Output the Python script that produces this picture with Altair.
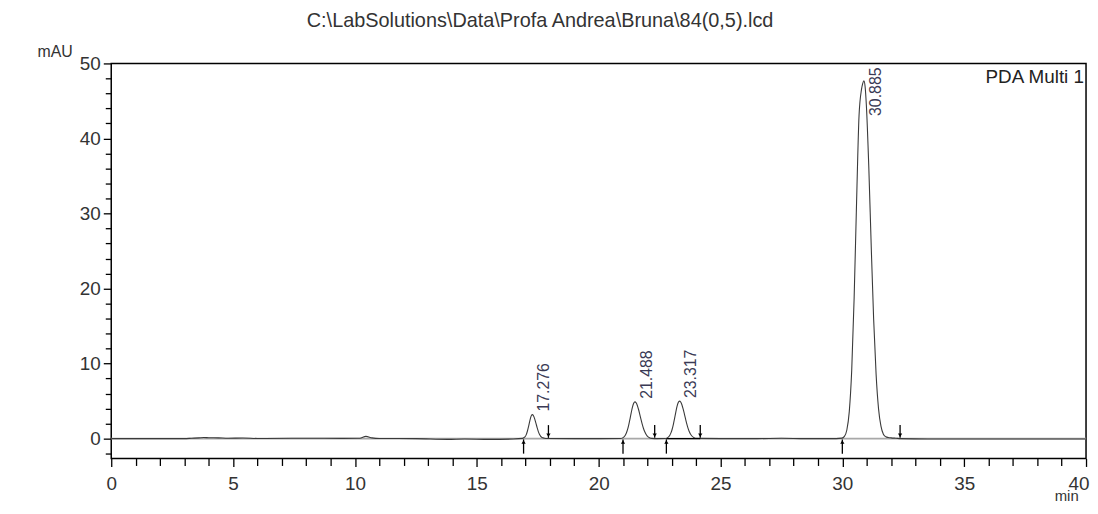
import altair as alt
import pandas as pd

# ---------------- data ----------------
trace_time = [
    0.0, 1.5, 3.0, 3.3, 3.6, 3.8, 4.0, 4.4, 4.8, 5.4, 6.0, 7.4, 8.0, 9.5, 10.2, 10.45, 10.7, 11.0,
    12.5, 13.8, 14.5, 15.5, 16.5,
    16.876, 16.976, 17.026, 17.076, 17.126, 17.176, 17.226, 17.276, 17.326, 17.376, 17.426, 17.476,
    17.526, 17.576, 17.676, 17.776, 17.876,
    19.0, 20.0, 20.888, 20.988, 21.088, 21.138, 21.188, 21.238, 21.288, 21.338, 21.388, 21.438,
    21.488, 21.538, 21.588, 21.638, 21.688, 21.738, 21.788, 21.838, 21.888, 21.988, 22.088, 22.188,
    22.4, 22.717, 22.817, 22.917, 22.967, 23.017, 23.067, 23.117, 23.167, 23.217, 23.267, 23.317,
    23.367, 23.417, 23.467, 23.517, 23.567, 23.617, 23.667, 23.717, 23.817, 23.917, 24.017,
    25.0, 26.5, 27.5, 28.5, 29.5,
    29.985, 30.085, 30.185, 30.285, 30.385, 30.485, 30.585, 30.685, 30.785, 30.835, 30.885,
    30.935, 30.985, 31.085, 31.185, 31.285, 31.385, 31.485, 31.585, 31.685, 31.785, 31.885,
    32.0, 32.2, 32.4, 33.5, 35.0, 37.0, 39.0, 40.0,
]
trace_mau = [
    0.0, 0.0, 0.0, 0.05, 0.1, 0.15, 0.12, 0.1, 0.05, 0.08, 0.02, 0.05, 0.06, 0.03, 0.05, 0.3, 0.1, 0.02,
    0.0, -0.1, -0.05, -0.1, -0.05,
    0.03, 0.22, 0.5, 0.98, 1.64, 2.38, 2.97, 3.2, 3.05, 2.63, 2.06, 1.47,
    0.94, 0.55, 0.14, 0.05, 0.01,
    0.0, 0.0, 0.02, 0.10, 0.41, 0.74, 1.22, 1.87, 2.64, 3.46, 4.2, 4.71,
    4.9, 4.78, 4.42, 3.88, 3.24, 2.57, 1.93, 1.38, 0.94, 0.37, 0.12, 0.03,
    0.0, 0.02, 0.10, 0.42, 0.76, 1.25, 1.91, 2.69, 3.53, 4.29, 4.81, 5.0,
    4.88, 4.51, 3.96, 3.31, 2.62, 1.97, 1.41, 0.96, 0.38, 0.12, 0.03,
    0.0, 0.0, 0.05, 0.0, 0.0,
    0.07, 0.3, 1.15, 3.6, 9.1, 18.8, 31.6, 43.0, 46.5, 47.3, 47.7,
    46.9, 44.5, 36.3, 25.7, 15.9, 8.6, 4.0, 1.66, 0.59, 0.25, 0.15,
    0.1, 0.05, 0.0, -0.05, -0.05, -0.05, -0.05, -0.05,
]

peak_rt = [17.276, 21.488, 23.317, 30.885]
peak_height = [3.2, 4.9, 5.0, 47.7]
peak_label = ["17.276", "21.488", "23.317", "30.885"]

start_marks = [16.92, 21.0, 22.78, 30.0]
end_marks = [17.94, 22.3, 24.17, 32.37]
drop_baseline_start = [22.78]
drop_baseline_end = [24.17]

title_text = "C:\\LabSolutions\\Data\\Profa Andrea\\Bruna\\84(0,5).lcd"
channel_text = "PDA Multi 1"

x_ticks = list(range(0, 41))
y_ticks = list(range(-2, 51, 2))

# ---------------- frames ----------------
trace_df = pd.DataFrame({"t": trace_time, "v": trace_mau})
label_df = pd.DataFrame({
    "t": peak_rt,
    "y": [min(h + 0.4, 43.0) for h in peak_height],
    "label": peak_label,
})
start_df = pd.DataFrame({"t": start_marks})
end_df = pd.DataFrame({"t": end_marks})
seg_df = pd.DataFrame({"t": drop_baseline_start, "t2": drop_baseline_end})

FONT = "Liberation Sans"
xs = alt.Scale(domain=[0, 40], nice=False, zero=False)
ys = alt.Scale(domain=[-2.65, 50], nice=False, zero=False)

x_axis = alt.Axis(
    values=x_ticks, tickCount=200,
    labelExpr="datum.value % 5 === 0 ? format(datum.value, 'd') : ''",
    labelOverlap=False,
    tickSize={"condition": {"test": "datum.value % 5 === 0", "value": 8}, "value": 7},
    labelAlign={"condition": {"test": "datum.value === 40", "value": "right"}, "value": "center"},
    labelOffset={"condition": {"test": "datum.value === 40", "value": 3}, "value": 0},
    grid=False, domain=False, tickColor="#000", tickWidth=1.3,
    labelFont=FONT, labelFontSize=19, labelColor="#333",
    labelPadding=8, labelFlush=False,
    title="min", titleFont=FONT, titleFontSize=15, titleFontWeight="normal",
    titleColor="#333", titleX=962, titleY=45, titleAlign="center",
    titleBaseline="bottom",
)
y_axis = alt.Axis(
    values=y_ticks, tickCount=200,
    labelExpr="datum.value % 10 === 0 ? format(datum.value, 'd') : ''",
    labelOverlap=False,
    tickSize={"condition": {"test": "datum.value % 10 === 0", "value": 8}, "value": 6},
    grid=False, domain=False, tickColor="#000", tickWidth=1.3,
    labelFont=FONT, labelFontSize=19, labelColor="#333", labelPadding=3,
    title="mAU", titleFont=FONT, titleFontSize=16, titleFontWeight="normal",
    titleColor="#333", titleAngle=0, titleX=-57, titleY=-7, titleAlign="center",
    titleBaseline="alphabetic",
)

baseline = alt.Chart(pd.DataFrame({"v": [0]})).mark_rule(
    color="#a8a8a8", strokeWidth=2
).encode(y=alt.Y("v:Q", scale=ys, axis=y_axis))

trace = alt.Chart(trace_df).mark_line(
    color="#3a3a3a", strokeWidth=1.1, interpolate="monotone"
).encode(
    x=alt.X("t:Q", scale=xs, axis=x_axis),
    y=alt.Y("v:Q", scale=ys, axis=y_axis),
)

seg = alt.Chart(seg_df).mark_rule(color="#000", strokeWidth=1.5).encode(
    x="t:Q", x2="t2:Q", y=alt.datum(0)
)

up_shaft = alt.Chart(start_df).mark_rule(color="#000", strokeWidth=1.3).encode(
    x="t:Q", y=alt.datum(-2.0), y2=alt.datum(-0.1)
)
up_head = alt.Chart(start_df).mark_point(
    shape="triangle-up", filled=True, color="#000", size=18, opacity=1
).encode(x="t:Q", y=alt.datum(-0.45))

down_shaft = alt.Chart(end_df).mark_rule(color="#000", strokeWidth=1.3).encode(
    x="t:Q", y=alt.datum(1.8), y2=alt.datum(0.1)
)
down_head = alt.Chart(end_df).mark_point(
    shape="triangle-down", filled=True, color="#000", size=18, opacity=1
).encode(x="t:Q", y=alt.datum(0.45))

labels = alt.Chart(label_df).mark_text(
    angle=270, align="left", baseline="middle", dx=0, dy=12,
    font=FONT, fontSize=16, color="#3a3a55",
).encode(x="t:Q", y="y:Q", text="label:N")

channel = alt.Chart(pd.DataFrame({"s": [channel_text]})).mark_text(
    align="right", baseline="top", dx=-2, dy=5,
    font=FONT, fontSize=19, color="#222",
).encode(x=alt.datum(40), y=alt.datum(50), text="s:N")

chart = alt.layer(
    baseline, trace, seg, up_shaft, up_head, down_shaft, down_head, labels, channel
).properties(
    width=982,
    height=398,
    background="white",
    title=alt.TitleParams(
        text=title_text, anchor="middle", dx=-59, dy=19, offset=16, baseline="alphabetic",
        font=FONT, fontSize=20, fontWeight="normal", color="#333",
    ),
    autosize=alt.AutoSizeParams(type="none"),
    padding={"left": 104, "top": 54, "right": 4, "bottom": 46},
).configure_view(
    stroke="#000", strokeWidth=1.5
)

chart.save("out.html", embed_options={"renderer": "svg", "actions": False})
